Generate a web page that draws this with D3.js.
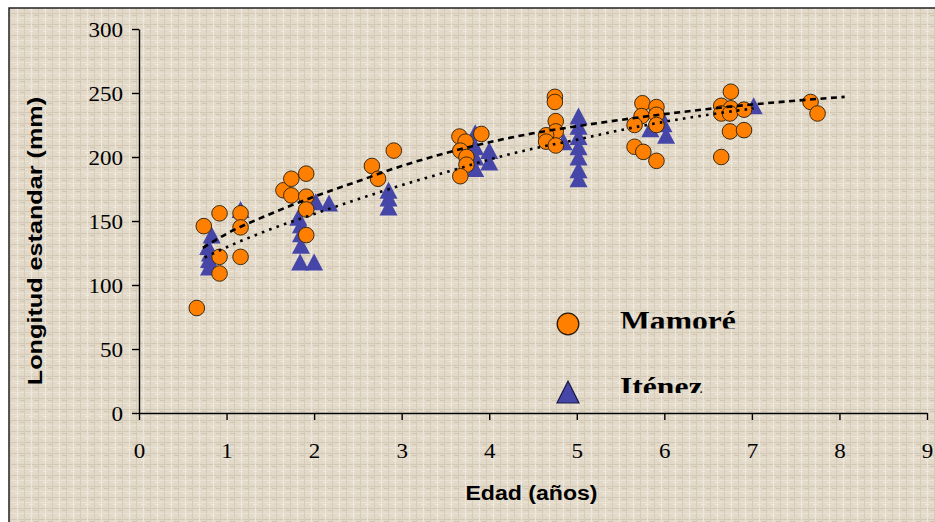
<!DOCTYPE html>
<html><head><meta charset="utf-8">
<script src="https://cdn.jsdelivr.net/npm/d3@7"></script>
<style>html,body{margin:0;padding:0;background:#fff;}svg{display:block;}</style>
</head><body>
<svg id="chart" width="935" height="522"></svg>
<script>
// ---- data ----
const mamoreX = [0.66,0.74,0.92,0.92,0.92,1.16,1.16,1.16,1.65,1.74,1.74,1.91,1.91,1.91,1.91,2.66,2.73,2.91,3.66,3.73,3.67,3.74,3.74,3.67,3.91,4.75,4.75,4.76,4.76,4.65,4.65,4.76,5.75,5.74,5.66,5.66,5.76,5.91,5.91,5.91,5.91,6.76,6.65,6.76,6.65,6.75,6.91,6.75,6.91,6.65,7.67,7.75];
const mamoreY = [82,146,156,122,109,156,145,122,174,183,170,187,169,159,139,193,183,205,216,212,205,200,194,185,218,247,243,228,220,217,212,209,242,232,225,208,204,197,239,233,225,251,240,238,234,234,237,220,221,200,243,234];
const itenezX = [0.83,0.79,0.81,0.80,0.80,1.16,1.82,1.85,1.85,1.85,1.84,2.0,2.02,2.17,2.85,2.85,2.85,3.84,3.84,3.84,3.84,4.0,4.0,4.85,5.02,5.02,5.02,5.02,5.02,5.02,5.02,5.84,5.95,5.99,6.02,7.02];
const itenezY = [139,130,125,120,114,159,153,147,140,131,118,118,165,164,174,168,161,219,208,200,191,205,196,212,232,224,216,208,200,190,183,222,234,226,217,240];
// trend lines
const mamoreTrendX = [0.73,1.0,1.5,2.0,2.5,3.0,3.5,4.0,4.5,5.0,5.5,6.0,6.5,7.0,7.5,8.06];
const mamoreTrendY = [129,140,155.5,169,181,193,203,211.5,218.5,224,229,233.5,237.5,241,244,247];
const itenezTrendX = [0.75,1.0,1.5,2.0,2.5,3.0,3.5,4.0,4.5,5.0,5.5,6.0,6.5,7.02];
const itenezTrendY = [121.5,129.5,143.5,155.5,167,178,188,198,206.5,213.5,221,227.5,233,238];
const xTicks = [0,1,2,3,4,5,6,7,8,9];
const yTicks = [0,50,100,150,200,250,300];
const seriesNames = ["Mamoré","Iténez"];
const xTitle = "Edad (años)";
const yTitle = "Longitud estandar (mm)";

const svg = d3.select("#chart");
const serif = "'Liberation Serif','Times New Roman',serif";
const sans = "'Liberation Sans',Arial,sans-serif";
const orange = "#FF8000", blue = "#4646A8";

// texture
const defs = svg.append("defs");
const pat = defs.append("pattern").attr("id","tex").attr("patternUnits","userSpaceOnUse")
  .attr("width",14).attr("height",11);
pat.append("rect").attr("width",14).attr("height",11).attr("fill","#E2D9C9");
[[0,2,14,1,"#D3C8B5"],[0,7,14,1,"#EAE3D6"],[3,0,1,11,"#EDE7DC"],[10,0,1,11,"#D6CCBA"],[6,4,5,1,"#D0C5B1"],[1,9,4,1,"#EFE9DF"]]
  .forEach(r=>pat.append("rect").attr("x",r[0]).attr("y",r[1]).attr("width",r[2]).attr("height",r[3]).attr("fill",r[4]));

svg.append("rect").attr("x",9).attr("y",8).attr("width",940).attr("height",530)
  .attr("fill","url(#tex)").attr("stroke","#222").attr("stroke-width",1.5);

const x = d3.scaleLinear().domain([0,9]).range([139,927]);
const y = d3.scaleLinear().domain([0,300]).range([413,29]);

// axes
const gx = svg.append("g").attr("transform","translate(0,413)")
  .call(d3.axisBottom(x).tickValues(xTicks).tickSizeInner(7).tickSizeOuter(0));
const gy = svg.append("g").attr("transform","translate(139,0)")
  .call(d3.axisLeft(y).tickValues(yTicks).tickSizeInner(7).tickSizeOuter(0));
[gx,gy].forEach(g=>{
  g.select(".domain").attr("stroke","#000").attr("stroke-width",1.4);
  g.selectAll(".tick line").attr("stroke","#000").attr("stroke-width",1.4);
  g.selectAll(".tick text").attr("font-family",serif).attr("font-size",20).attr("fill","#000");
});
gx.selectAll(".tick text").attr("y",0).attr("dy",0).attr("transform","translate(0,45) scale(1.15,1)");
gy.selectAll(".tick text").attr("x",0).attr("dy","0.34em").attr("transform","translate(-16,1) scale(1.15,1)");

// triangles (Iténez) first
const tri = (w,h)=>`M0,${-h/2}L${w/2},${h/2}L${-w/2},${h/2}Z`;
svg.append("g").selectAll("path").data(d3.range(itenezX.length)).join("path")
  .attr("d",tri(18,17)).attr("fill",blue)
  .attr("transform",i=>`translate(${x(itenezX[i])},${y(itenezY[i])})`);

// circles (Mamoré)
svg.append("g").selectAll("circle").data(d3.range(mamoreX.length)).join("circle")
  .attr("cx",i=>x(mamoreX[i])).attr("cy",i=>y(mamoreY[i])).attr("r",7.8)
  .attr("fill",orange).attr("stroke","#3a2a14").attr("stroke-width",1);

// trend lines
const line = d3.line().x(d=>x(d[0])).y(d=>y(d[1])).curve(d3.curveMonotoneX);
svg.append("path").datum(itenezTrendX.map((v,i)=>[v,itenezTrendY[i]])).attr("d",line)
  .attr("fill","none").attr("stroke","#000").attr("stroke-width",2.6).attr("stroke-dasharray","2.6,5.2");
svg.append("path").datum(mamoreTrendX.map((v,i)=>[v,mamoreTrendY[i]])).attr("d",line)
  .attr("fill","none").attr("stroke","#000").attr("stroke-width",2.6).attr("stroke-dasharray","6,4.5");

// legend
defs.append("clipPath").attr("id","clipM").append("rect").attr("x",600).attr("y",295).attr("width",200).attr("height",33.5);
defs.append("clipPath").attr("id","clipI").append("rect").attr("x",600).attr("y",360).attr("width",200).attr("height",33);
svg.append("circle").attr("cx",568).attr("cy",324).attr("r",10.8).attr("fill",orange).attr("stroke","#2a1a08").attr("stroke-width",1.3);
svg.append("path").attr("d",tri(22,22)).attr("transform","translate(568,392)").attr("fill",blue).attr("stroke","#1a1a40").attr("stroke-width",1.2);
svg.append("g").attr("clip-path","url(#clipM)").append("text").text(seriesNames[0])
  .attr("transform","translate(620,329.5) scale(1.13,1)").attr("font-family",serif).attr("font-weight","bold").attr("font-size",28).attr("fill","#000");
svg.append("g").attr("clip-path","url(#clipI)").append("text").text(seriesNames[1])
  .attr("transform","translate(620,395.5) scale(1.13,1)").attr("font-family",serif).attr("font-weight","bold").attr("font-size",28).attr("fill","#000");

// axis titles
svg.append("text").text(xTitle).attr("text-anchor","middle")
  .attr("transform","translate(531.5,500) scale(1.1,1)")
  .attr("font-family",sans).attr("font-weight","bold").attr("font-size",21).attr("fill","#000");
svg.append("text").text(yTitle).attr("text-anchor","middle")
  .attr("transform","translate(42,241) rotate(-90) scale(1.2,1)")
  .attr("font-family",sans).attr("font-weight","bold").attr("font-size",21).attr("fill","#000");
</script>
</body></html>
